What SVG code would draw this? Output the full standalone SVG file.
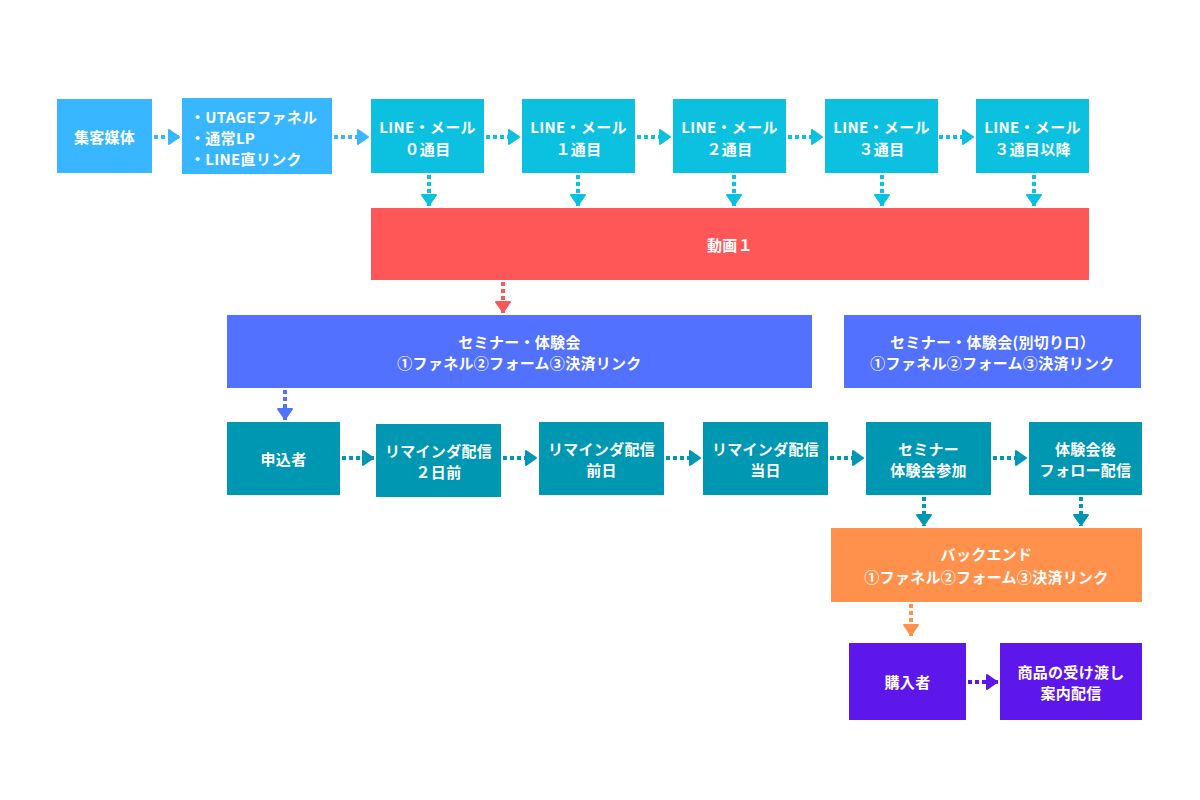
<svg xmlns="http://www.w3.org/2000/svg" width="1200" height="800" viewBox="0 0 1200 800">
<style>
.t{font-family:"Noto Sans CJK JP","Noto Sans",sans-serif;font-size:15px;font-weight:700;fill:#fff;text-anchor:middle;dominant-baseline:central;letter-spacing:0.3px}
.tl{text-anchor:start}
.c{fill:none;stroke-width:4;stroke-dasharray:4 3}
</style>
<defs>
<marker id="mLb" viewBox="0 0 14 18" markerWidth="14" markerHeight="18" refX="13" refY="9" orient="auto" markerUnits="userSpaceOnUse"><path d="M2,2 L12,9 L2,16 Z" fill="#38b6ff" stroke="#38b6ff" stroke-width="2" stroke-linejoin="round"/></marker>
<marker id="mCy" viewBox="0 0 14 18" markerWidth="14" markerHeight="18" refX="13" refY="9" orient="auto" markerUnits="userSpaceOnUse"><path d="M2,2 L12,9 L2,16 Z" fill="#0cc0df" stroke="#0cc0df" stroke-width="2" stroke-linejoin="round"/></marker>
<marker id="mRd" viewBox="0 0 14 18" markerWidth="14" markerHeight="18" refX="13" refY="9" orient="auto" markerUnits="userSpaceOnUse"><path d="M2,2 L12,9 L2,16 Z" fill="#ff5757" stroke="#ff5757" stroke-width="2" stroke-linejoin="round"/></marker>
<marker id="mBl" viewBox="0 0 14 18" markerWidth="14" markerHeight="18" refX="13" refY="9" orient="auto" markerUnits="userSpaceOnUse"><path d="M2,2 L12,9 L2,16 Z" fill="#5271ff" stroke="#5271ff" stroke-width="2" stroke-linejoin="round"/></marker>
<marker id="mTl" viewBox="0 0 14 18" markerWidth="14" markerHeight="18" refX="13" refY="9" orient="auto" markerUnits="userSpaceOnUse"><path d="M2,2 L12,9 L2,16 Z" fill="#0097b2" stroke="#0097b2" stroke-width="2" stroke-linejoin="round"/></marker>
<marker id="mOr" viewBox="0 0 14 18" markerWidth="14" markerHeight="18" refX="13" refY="9" orient="auto" markerUnits="userSpaceOnUse"><path d="M2,2 L12,9 L2,16 Z" fill="#ff914d" stroke="#ff914d" stroke-width="2" stroke-linejoin="round"/></marker>
<marker id="mPu" viewBox="0 0 14 18" markerWidth="14" markerHeight="18" refX="13" refY="9" orient="auto" markerUnits="userSpaceOnUse"><path d="M2,2 L12,9 L2,16 Z" fill="#5e17eb" stroke="#5e17eb" stroke-width="2" stroke-linejoin="round"/></marker>
</defs>
<rect width="1200" height="800" fill="#fff"/>

<g id="connectors">
<line class="c" stroke="#38b6ff" marker-end="url(#mLb)" x1="154" y1="137" x2="180" y2="137"/>
<line class="c" stroke="#38b6ff" marker-end="url(#mLb)" x1="334" y1="137" x2="369" y2="137"/>
<line class="c" stroke="#0cc0df" marker-end="url(#mCy)" x1="486" y1="137" x2="520" y2="137"/>
<line class="c" stroke="#0cc0df" marker-end="url(#mCy)" x1="637" y1="137" x2="671" y2="137"/>
<line class="c" stroke="#0cc0df" marker-end="url(#mCy)" x1="788" y1="137" x2="823" y2="137"/>
<line class="c" stroke="#0cc0df" marker-end="url(#mCy)" x1="939" y1="137" x2="974" y2="137"/>
<line class="c" stroke="#0cc0df" marker-end="url(#mCy)" x1="429" y1="175" x2="429" y2="206"/>
<line class="c" stroke="#0cc0df" marker-end="url(#mCy)" x1="578" y1="175" x2="578" y2="206"/>
<line class="c" stroke="#0cc0df" marker-end="url(#mCy)" x1="734" y1="175" x2="734" y2="206"/>
<line class="c" stroke="#0cc0df" marker-end="url(#mCy)" x1="882" y1="175" x2="882" y2="206"/>
<line class="c" stroke="#0cc0df" marker-end="url(#mCy)" x1="1034" y1="175" x2="1034" y2="206"/>
<line class="c" stroke="#ff5757" marker-end="url(#mRd)" x1="503" y1="282" x2="503" y2="313"/>
<line class="c" stroke="#5271ff" marker-end="url(#mBl)" x1="285" y1="390" x2="285" y2="420"/>
<line class="c" stroke="#0097b2" marker-end="url(#mTl)" x1="342" y1="458" x2="374" y2="458"/>
<line class="c" stroke="#0097b2" marker-end="url(#mTl)" x1="503" y1="458" x2="537" y2="458"/>
<line class="c" stroke="#0097b2" marker-end="url(#mTl)" x1="666" y1="458" x2="701" y2="458"/>
<line class="c" stroke="#0097b2" marker-end="url(#mTl)" x1="830" y1="458" x2="864" y2="458"/>
<line class="c" stroke="#0097b2" marker-end="url(#mTl)" x1="993" y1="458" x2="1027" y2="458"/>
<line class="c" stroke="#0097b2" marker-end="url(#mTl)" x1="924" y1="497" x2="924" y2="526"/>
<line class="c" stroke="#0097b2" marker-end="url(#mTl)" x1="1081" y1="497" x2="1081" y2="526"/>
<line class="c" stroke="#ff914d" marker-end="url(#mOr)" x1="911" y1="604" x2="911" y2="636"/>
<line class="c" stroke="#5e17eb" marker-end="url(#mPu)" x1="968" y1="682" x2="998" y2="682"/>
</g>

<g id="n-media"><rect x="57" y="99" width="95" height="74" fill="#38b6ff"/><text class="t" x="104.5" y="136">集客媒体</text></g>
<g id="n-utage"><rect x="182" y="98" width="150" height="76" fill="#38b6ff"/>
<text class="t tl" x="190" y="116">・UTAGEファネル</text>
<text class="t tl" x="190" y="137">・通常LP</text>
<text class="t tl" x="190" y="158">・LINE直リンク</text></g>

<g id="n-line0"><rect x="371" y="99" width="113" height="74" fill="#0cc0df"/><text class="t" x="427.5" y="126">LINE・メール</text><text class="t" x="427.5" y="148">０通目</text></g>
<g id="n-line1"><rect x="522" y="99" width="113" height="74" fill="#0cc0df"/><text class="t" x="578.5" y="126">LINE・メール</text><text class="t" x="578.5" y="148">１通目</text></g>
<g id="n-line2"><rect x="673" y="99" width="113" height="74" fill="#0cc0df"/><text class="t" x="729.5" y="126">LINE・メール</text><text class="t" x="729.5" y="148">２通目</text></g>
<g id="n-line3"><rect x="825" y="99" width="113" height="74" fill="#0cc0df"/><text class="t" x="881.5" y="126">LINE・メール</text><text class="t" x="881.5" y="148">３通目</text></g>
<g id="n-line4"><rect x="976" y="99" width="113" height="74" fill="#0cc0df"/><text class="t" x="1032.5" y="126">LINE・メール</text><text class="t" x="1032.5" y="148">３通目以降</text></g>

<g id="n-video"><rect x="371" y="208" width="718" height="72" fill="#ff5757"/><text class="t" x="730" y="244">動画１</text></g>

<g id="n-seminar"><rect x="227" y="315" width="585" height="73" fill="#5271ff"/><text class="t" x="519.5" y="341">セミナー・体験会</text><text class="t" x="519.5" y="362">①ファネル②フォーム③決済リンク</text></g>
<g id="n-seminar2"><rect x="844" y="315" width="297" height="73" fill="#5271ff"/><text class="t" x="992.5" y="341">セミナー・体験会(別切り口）</text><text class="t" x="992.5" y="362">①ファネル②フォーム③決済リンク</text></g>

<g id="n-apply"><rect x="227" y="422" width="113" height="73" fill="#0097b2"/><text class="t" x="283.5" y="458">申込者</text></g>
<g id="n-rem2"><rect x="376" y="424" width="125" height="73" fill="#0097b2"/><text class="t" x="438.5" y="450">リマインダ配信</text><text class="t" x="438.5" y="471">２日前</text></g>
<g id="n-rem1"><rect x="539" y="422" width="125" height="73" fill="#0097b2"/><text class="t" x="601.5" y="448">リマインダ配信</text><text class="t" x="601.5" y="469">前日</text></g>
<g id="n-rem0"><rect x="703" y="422" width="125" height="73" fill="#0097b2"/><text class="t" x="765.5" y="448">リマインダ配信</text><text class="t" x="765.5" y="469">当日</text></g>
<g id="n-attend"><rect x="866" y="422" width="125" height="73" fill="#0097b2"/><text class="t" x="928.5" y="448">セミナー</text><text class="t" x="928.5" y="469">体験会参加</text></g>
<g id="n-follow"><rect x="1029" y="422" width="113" height="73" fill="#0097b2"/><text class="t" x="1085.5" y="448">体験会後</text><text class="t" x="1085.5" y="469">フォロー配信</text></g>

<g id="n-backend"><rect x="831" y="528" width="311" height="74" fill="#ff914d"/><text class="t" x="986.5" y="553">バックエンド</text><text class="t" x="986.5" y="576">①ファネル②フォーム③決済リンク</text></g>

<g id="n-buyer"><rect x="849" y="643" width="117" height="77" fill="#5e17eb"/><text class="t" x="907.5" y="681">購入者</text></g>
<g id="n-deliver"><rect x="1000" y="643" width="142" height="77" fill="#5e17eb"/><text class="t" x="1071" y="671">商品の受け渡し</text><text class="t" x="1071" y="692">案内配信</text></g>
</svg>
